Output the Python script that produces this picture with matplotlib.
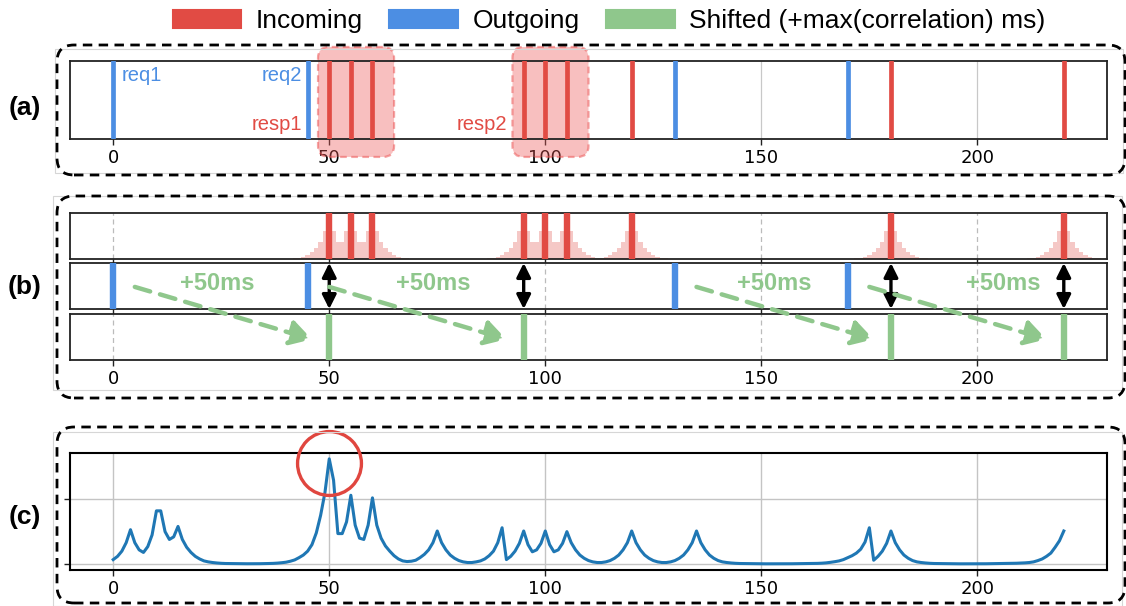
import matplotlib
matplotlib.use("Agg")
import matplotlib.pyplot as plt
import matplotlib.transforms as mtransforms
from matplotlib.patches import FancyBboxPatch, Patch, Rectangle, ConnectionPatch
import numpy as np

# ---------------- data ----------------
outgoing = [0, 45, 130, 170]
incoming = [50, 55, 60, 95, 100, 105, 120, 180, 220]
shifted = [50, 95, 180, 220]
xticks = [0, 50, 100, 150, 200]
legend_labels = ["Incoming", "Outgoing", "Shifted (+max(correlation) ms)"]
shift_label = "+50ms"
shift_label_x = [24, 74, 153, 206]

# pink "incoming signal" bars (start position, heights at unit steps)
pink_a_start = 41
pink_a = [0.01, 0.015, 0.03, 0.05, 0.09, 0.15, 0.23, 0.37, 0.6, 1.0,
          0.6, 0.37, 0.37, 0.6, 1.0, 0.6, 0.37, 0.37, 0.6, 1.0,
          0.6, 0.37, 0.23, 0.15, 0.09, 0.05, 0.03, 0.015, 0.01]
pink_b_start = 86
pink_b = [0.01, 0.015, 0.03, 0.05, 0.09, 0.15, 0.23, 0.37, 0.6, 1.0,
          0.6, 0.37, 0.37, 0.6, 1.0, 0.6, 0.37, 0.37, 0.6, 1.0,
          0.6, 0.37, 0.23, 0.15, 0.09, 0.05, 0.03, 0.03, 0.05, 0.09,
          0.15, 0.23, 0.37, 0.6, 1.0, 0.6, 0.37, 0.23, 0.15, 0.09,
          0.05, 0.03, 0.015, 0.01]
pink_c_start = 171
pink_c = [0.01, 0.015, 0.03, 0.05, 0.09, 0.15, 0.23, 0.37, 0.6, 1.0,
          0.6, 0.37, 0.23, 0.15, 0.09, 0.05, 0.03, 0.015, 0.01]
pink_d_start = 211
pink_d = [0.01, 0.015, 0.03, 0.05, 0.09, 0.15, 0.23, 0.37, 0.6, 1.0,
          0.6, 0.37, 0.23, 0.15, 0.09, 0.05, 0.03, 0.015, 0.01]

# correlation by lag (lag 0 .. 220)
corr = [
    0.07, 0.12, 0.2, 0.33, 0.53, 0.33, 0.22, 0.18, 0.27, 0.45,
    0.82, 0.82, 0.5, 0.38, 0.42, 0.58, 0.38, 0.26, 0.18, 0.12,
    0.08, 0.05, 0.035, 0.025, 0.018, 0.013, 0.01, 0.009, 0.008, 0.007,
    0.006, 0.006, 0.006, 0.006, 0.007, 0.008, 0.01, 0.012, 0.016, 0.022,
    0.03, 0.045, 0.065, 0.1, 0.14, 0.2, 0.3, 0.48, 0.75, 1.1,
    1.62, 1.29, 0.47, 0.47, 0.65, 1.06, 0.6, 0.4, 0.38, 0.6,
    1.02, 0.6, 0.4, 0.28, 0.2, 0.13, 0.08, 0.05, 0.04, 0.045,
    0.06, 0.1, 0.15, 0.22, 0.33, 0.51, 0.33, 0.22, 0.14, 0.09,
    0.055, 0.035, 0.025, 0.025, 0.035, 0.05, 0.08, 0.13, 0.2, 0.33,
    0.56, 0.07, 0.12, 0.2, 0.32, 0.51, 0.3, 0.19, 0.22, 0.32,
    0.51, 0.3, 0.19, 0.22, 0.32, 0.5, 0.33, 0.22, 0.14, 0.09,
    0.055, 0.035, 0.025, 0.025, 0.035, 0.055, 0.09, 0.14, 0.22, 0.33,
    0.51, 0.33, 0.22, 0.14, 0.09, 0.055, 0.035, 0.025, 0.025, 0.035,
    0.055, 0.09, 0.14, 0.22, 0.33, 0.51, 0.33, 0.22, 0.14, 0.09,
    0.055, 0.035, 0.025, 0.018, 0.013, 0.01, 0.009, 0.008, 0.007, 0.006,
    0.006, 0.005, 0.005, 0.005, 0.005, 0.005, 0.006, 0.006, 0.007, 0.008,
    0.008, 0.009, 0.01, 0.012, 0.015, 0.02, 0.028, 0.038, 0.05, 0.07,
    0.1, 0.13, 0.17, 0.23, 0.34, 0.56, 0.06, 0.12, 0.2, 0.32,
    0.51, 0.33, 0.22, 0.14, 0.09, 0.055, 0.035, 0.025, 0.018, 0.013,
    0.01, 0.009, 0.008, 0.007, 0.006, 0.006, 0.005, 0.005, 0.005, 0.005,
    0.005, 0.006, 0.006, 0.007, 0.008, 0.008, 0.009, 0.01, 0.012, 0.014,
    0.017, 0.02, 0.025, 0.035, 0.055, 0.08, 0.12, 0.17, 0.26, 0.36,
    0.51,
]

# ---------------- style ----------------
RED = "#e14b44"
BLUE = "#4c8ee3"
GREEN = "#8fc78c"
CURVE = "#1f77b4"
SANS = ["Liberation Sans", "DejaVu Sans"]
plt.rcParams["font.family"] = ["DejaVu Sans"]

W, H = 1126, 606
fig = plt.figure(figsize=(W / 100, H / 100), dpi=100)


def ax_rect(x0, y0, x1, y1):
    return [x0 / W, 1 - y1 / H, (x1 - x0) / W, (y1 - y0) / H]


ax_a = fig.add_axes(ax_rect(70, 61, 1107, 139))
ax_b1 = fig.add_axes(ax_rect(70, 213, 1107, 259))
ax_b2 = fig.add_axes(ax_rect(70, 263, 1107, 309))
ax_b3 = fig.add_axes(ax_rect(70, 314, 1107, 360))
ax_c = fig.add_axes(ax_rect(70, 453, 1107, 570))

for ax in [ax_a, ax_b1, ax_b2, ax_b3, ax_c]:
    ax.set_xlim(-10, 230)
    ax.set_xticks(xticks)
    ax.tick_params(axis="x", labelsize=13, length=4, width=1, color="#222222")
    for s in ax.spines.values():
        s.set_linewidth(1.3)
        s.set_color("#222222")
for ax in [ax_a, ax_b1, ax_b2, ax_b3]:
    ax.set_ylim(0, 1)
    ax.set_yticks([])
for ax in [ax_b1, ax_b2]:
    ax.tick_params(axis="x", labelbottom=False)

# ---------------- panel (a) ----------------
ax_a.grid(axis="x", color="#c8c8c8", lw=0.9, zorder=0)
ax_a.set_axisbelow(True)
for x in outgoing:
    ax_a.axvline(x, color=BLUE, lw=3.4, zorder=3)
for x in incoming:
    ax_a.axvline(x, color=RED, lw=3.4, zorder=3)

txt_kw = dict(fontsize=14.5, family=SANS, transform=mtransforms.blended_transform_factory(ax_a.transData, ax_a.transAxes))
ax_a.text(outgoing[0] + 2, 0.82, "req1", color=BLUE, ha="left", va="center", **txt_kw)
ax_a.text(outgoing[1] - 1.3, 0.82, "req2", color=BLUE, ha="right", va="center", **txt_kw)
ax_a.text(outgoing[1] - 1.3, 0.19, "resp1", color=RED, ha="right", va="center", **txt_kw)
ax_a.text(incoming[3] - 3.8, 0.19, "resp2", color=RED, ha="right", va="center", **txt_kw)

# highlight boxes around the two response groups
blend_a = mtransforms.blended_transform_factory(ax_a.transData, ax_a.transAxes)
for grp in [incoming[0:3], incoming[3:6]]:
    (px0, py0), (px1, py1) = blend_a.transform([(min(grp) - 2.6, -0.23), (max(grp) + 5.0, 1.18)])
    box = FancyBboxPatch((px0, py0), px1 - px0, py1 - py0,
                         boxstyle="round,pad=0,rounding_size=11",
                         transform=mtransforms.IdentityTransform(),
                         facecolor=(0.93, 0.35, 0.35, 0.38), edgecolor=(0.93, 0.35, 0.35, 0.55),
                         lw=1.6, ls=(0, (3, 2)), clip_on=False, zorder=1.5)
    ax_a.add_patch(box)

# ---------------- panel (b) ----------------
for ax in [ax_b1, ax_b2, ax_b3]:
    ax.grid(axis="x", color="#bbbbbb", lw=0.9, ls=(0, (4, 3)), zorder=0)
    ax.set_axisbelow(True)

for start, hs in [(pink_a_start, pink_a), (pink_b_start, pink_b),
                  (pink_c_start, pink_c), (pink_d_start, pink_d)]:
    ax_b1.bar(np.arange(start, start + len(hs)), hs, width=1.0, color=RED, alpha=0.3, lw=0, zorder=1)
for x in incoming:
    ax_b1.axvline(x, color=RED, lw=4.6, zorder=3)
for x in outgoing:
    ax_b2.axvline(x, color=BLUE, lw=4.6, zorder=3)
for x in shifted:
    ax_b3.axvline(x, color=GREEN, lw=4.6, zorder=3)

blend_b2 = mtransforms.blended_transform_factory(ax_b2.transData, ax_b2.transAxes)
blend_b3 = mtransforms.blended_transform_factory(ax_b3.transData, ax_b3.transAxes)
for s in shifted:
    ax_b2.annotate("", xy=(s, 1.0), xytext=(s, 0.0), xycoords=blend_b2, textcoords=blend_b2,
                   arrowprops=dict(arrowstyle="<|-|>", color="black", lw=2.4,
                                   mutation_scale=21, shrinkA=0, shrinkB=0), zorder=5)

for o, s, lx in zip(outgoing, shifted, shift_label_x):
    cp = ConnectionPatch(xyA=(o + 5, 0.48), coordsA=blend_b2, xyB=(s - 4, 0.45), coordsB=blend_b3,
                         arrowstyle="-|>,head_length=0.65,head_width=0.38", mutation_scale=20,
                         color=GREEN, lw=3.2, ls=(0, (3.6, 2.3)), shrinkA=0, shrinkB=0, zorder=6)
    fig.add_artist(cp)
    ax_b2.text(lx, 0.55, shift_label, transform=blend_b2, ha="center", va="center",
               color=GREEN, fontsize=17, fontweight="bold", family=SANS, zorder=4)

# ---------------- panel (c) ----------------
lags = np.arange(len(corr))
ax_c.plot(lags, corr, color=CURVE, lw=2.2, zorder=3)
ax_c.set_ylim(-0.09, 1.71)
ax_c.set_yticks([0, 1])
ax_c.tick_params(axis="y", labelleft=False, length=4, width=1, color="#222222")
ax_c.grid(True, color="#c4c4c4", lw=1.0, zorder=0)
ax_c.set_axisbelow(True)
for s in ax_c.spines.values():
    s.set_color("black")
    s.set_linewidth(1.5)
imax = int(np.argmax(corr))
ax_c.plot([lags[imax]], [corr[imax] - 0.07], marker="o", ms=46, mfc="none",
          mec="#e0463f", mew=2.4, clip_on=False, zorder=5)

# ---------------- legend ----------------
handles = [Patch(facecolor=c, edgecolor=c, lw=1.5, joinstyle="round") for c in (RED, BLUE, GREEN)]
fig.legend(handles, legend_labels, loc="center", bbox_to_anchor=(609 / W, 1 - 21 / H),
           ncol=3, frameon=False, prop={"family": SANS, "size": 19},
           handlelength=2.6, handleheight=0.68, handletextpad=0.55, columnspacing=1.0,
           borderaxespad=0, borderpad=0)

# ---------------- panel labels & frames ----------------
for lab, yc in [("(a)", 108), ("(b)", 287), ("(c)", 517)]:
    fig.text(25 / W, 1 - yc / H, lab, ha="center", va="center", fontsize=19,
             fontweight="bold", family=SANS)

inch = fig.dpi_scale_trans
for (x0, y0, x1, y1) in [(55, 49, 1123, 173), (53, 196, 1122, 390), (53, 432, 1122, 606)]:
    fig.add_artist(Rectangle((x0 / 100, (H - y1) / 100), (x1 - x0) / 100, (y1 - y0) / 100,
                             transform=inch, fill=False, edgecolor="#d6d6d6", lw=0.8))
for (x0, y0, x1, y1) in [(57, 45, 1125, 175), (57, 196, 1125, 398), (57, 427, 1125, 603)]:
    fig.add_artist(FancyBboxPatch((x0 / 100, (H - y1) / 100), (x1 - x0) / 100, (y1 - y0) / 100,
                                  boxstyle="round,pad=0,rounding_size=0.17", transform=inch,
                                  fill=False, edgecolor="black", lw=2.0, ls=(0, (3.4, 2.3))))

fig.savefig("out.png", dpi=100)
